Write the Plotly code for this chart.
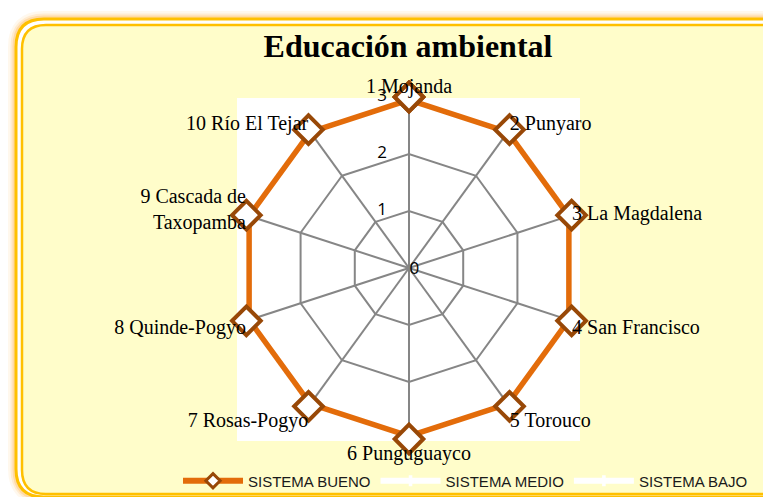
import plotly.graph_objects as go

# Datos del gráfico
sitios = ["1 Mojanda", "2 Punyaro", "3 La Magdalena", "4 San Francisco", "5 Torouco",
          "6 Punguguayco", "7 Rosas-Pogyo", "8 Quinde-Pogyo", "9 Cascada de<br>Taxopamba",
          "10 Río El Tejar"]
sistema_bueno = [3, 3, 3, 3, 3, 3, 3, 3, 3, 3]
sistema_medio = [0, 0, 0, 0, 0, 0, 0, 0, 0, 0]
sistema_bajo = [0, 0, 0, 0, 0, 0, 0, 0, 0, 0]
ticks_radiales = [0, 1, 2, 3]

W, H = 771, 497
OFF = 8  # margen del body de la página


def px(x):
    return (x - OFF) / W


def py(y):
    return (H - (y - OFF)) / H


def caja_redondeada(x0, y0, x1, y1, r):
    # trayectoria con esquinas redondeadas en coordenadas de papel
    return (f"M {px(x0 + r)},{py(y0)} L {px(x1 - r)},{py(y0)} "
            f"Q {px(x1)},{py(y0)} {px(x1)},{py(y0 + r)} "
            f"L {px(x1)},{py(y1 - r)} Q {px(x1)},{py(y1)} {px(x1 - r)},{py(y1)} "
            f"L {px(x0 + r)},{py(y1)} Q {px(x0)},{py(y1)} {px(x0)},{py(y1 - r)} "
            f"L {px(x0)},{py(y0 + r)} Q {px(x0)},{py(y0)} {px(x0 + r)},{py(y0)} Z")


theta = sitios + [sitios[0]]

fig = go.Figure()
fig.add_trace(go.Scatterpolar(
    r=sistema_bueno + [sistema_bueno[0]], theta=theta, name="SISTEMA BUENO",
    mode="lines+markers", showlegend=False,
    line=dict(color="#E36C0A", width=11),
    marker=dict(symbol="diamond", size=22, color="white",
                line=dict(color="#984807", width=4)),
))
for nombre, valores in [("SISTEMA MEDIO", sistema_medio), ("SISTEMA BAJO", sistema_bajo)]:
    fig.add_trace(go.Scatterpolar(
        r=valores + [valores[0]], theta=theta, name=nombre,
        mode="lines+markers", showlegend=False, cliponaxis=False,
        line=dict(color="white", width=7),
        marker=dict(symbol="cross", size=20, color="white"),
    ))

# etiquetas del eje radial (1-3), a la izquierda del radio superior
fig.add_trace(go.Scatterpolar(
    r=ticks_radiales[1:], theta=[sitios[0]] * len(ticks_radiales[1:]), mode="text",
    text=[f"{t}\u00a0\u00a0\u00a0\u00a0\u00a0" for t in ticks_radiales[1:]],
    textposition="middle left", showlegend=False, hoverinfo="skip", cliponaxis=False,
    textfont=dict(family="Open Sans", size=17, color="black"),
))

# entradas de la leyenda
fig.add_trace(go.Scatterpolar(
    r=[None], theta=[sitios[0]], name="SISTEMA BUENO", mode="lines+markers",
    line=dict(color="#E36C0A", width=6),
    marker=dict(symbol="diamond", size=11, color="white",
                line=dict(color="#984807", width=3)),
))
for nombre in ["SISTEMA MEDIO", "SISTEMA BAJO"]:
    fig.add_trace(go.Scatterpolar(
        r=[None], theta=[sitios[0]], name=nombre, mode="lines+markers",
        line=dict(color="white", width=6),
        marker=dict(symbol="cross", size=9, color="white"),
    ))

shapes = []
# resplandor exterior
for ancho, op in [(16, 0.07), (11, 0.12), (7, 0.2)]:
    shapes.append(dict(type="path", xref="paper", yref="paper",
                       path=caja_redondeada(16, 19, 800, 497, 28),
                       line=dict(color=f"rgba(255,150,0,{op})", width=ancho),
                       layer="below"))
shapes.append(dict(type="path", xref="paper", yref="paper",
                   path=caja_redondeada(16, 19, 800, 497, 28),
                   line=dict(color="#FFC000", width=3), fillcolor="white",
                   layer="below"))
shapes.append(dict(type="path", xref="paper", yref="paper",
                   path=caja_redondeada(22, 25, 794, 494, 24),
                   line=dict(color="#FFC000", width=2.5), fillcolor="#FFFDCA",
                   layer="below"))
shapes.append(dict(type="rect", xref="paper", yref="paper",
                   x0=px(237), x1=px(580), y0=py(441), y1=py(98),
                   line=dict(width=0), fillcolor="white", layer="below"))

fig.update_layout(
    width=W, height=H,
    margin=dict(l=0, r=0, t=0, b=0),
    paper_bgcolor="white",
    shapes=shapes,
    title=dict(text="<b>Educación ambiental</b>", x=px(408), xanchor="center",
               y=py(46), yanchor="middle",
               font=dict(family="Liberation Serif", size=32, color="black")),
    polar=dict(
        domain=dict(x=[px(238), px(580)], y=[py(439), py(97)]),
        bgcolor="white",
        gridshape="linear",
        angularaxis=dict(direction="clockwise", rotation=90, showline=False,
                         gridcolor="#868686", gridwidth=1.5, ticks="",
                         tickfont=dict(family="Liberation Serif", size=20, color="black")),
        radialaxis=dict(range=[0, 3], tickvals=ticks_radiales, angle=90,
                        ticktext=[str(ticks_radiales[0]), "", "", ""], tickangle=90,
                        showline=False, gridcolor="#868686", gridwidth=1.5, ticks="",
                        tickfont=dict(family="Open Sans", size=17, color="black")),
    ),
    legend=dict(orientation="h", x=px(178), xanchor="left", y=py(481), yanchor="middle",
                bgcolor="rgba(0,0,0,0)", itemwidth=60,
                font=dict(family="Liberation Sans Narrow, Liberation Sans", size=15, color="#1a1a1a")),
    showlegend=True,
)

fig.write_html("out.html")
